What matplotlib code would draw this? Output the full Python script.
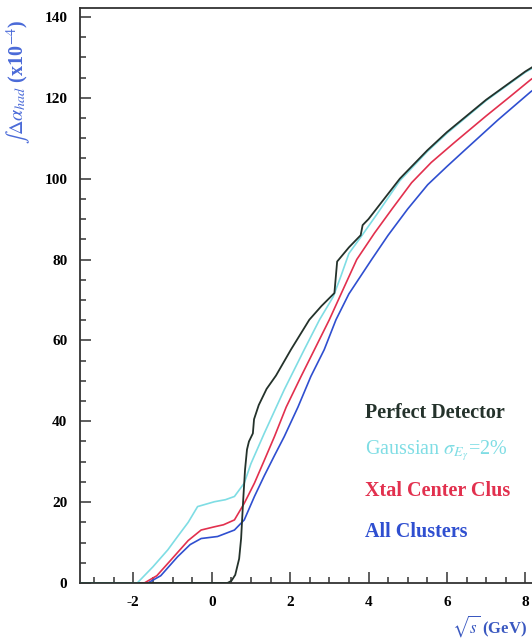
import matplotlib
matplotlib.use("Agg")
import matplotlib.pyplot as plt
from matplotlib.ticker import MultipleLocator

plt.rcParams["font.family"] = ["Liberation Serif", "DejaVu Serif"]
plt.rcParams["mathtext.fontset"] = "stix"
plt.rcParams["axes.unicode_minus"] = False

# Cumulative hadronic contribution vs sqrt(s), four detector assumptions
perfect_x = [-3.4, 0.4, 0.5, 0.6, 0.7, 0.75, 0.8, 0.85, 0.9, 0.95, 1.05, 1.08,
             1.2, 1.4, 1.64, 2.02, 2.49, 2.8, 3.13, 3.2, 3.5, 3.8, 3.85, 4.0,
             4.4, 4.8, 5.5, 6.0, 6.5, 7.0, 7.5, 8.0, 8.5, 9.0]
perfect_y = [0, 0, 0.5, 2, 6, 11, 20, 28, 33, 35, 37, 40.5,
             44, 48, 51.3, 57.7, 65.1, 68.5, 71.7, 79.5, 83, 86, 88.5, 90,
             95, 100, 107, 111.5, 115.5, 119.5, 123, 126.5, 129.5, 132]

gauss_x = [-3.4, -1.9, -1.5, -1.12, -0.87, -0.6, -0.36, 0.07, 0.35, 0.58, 0.83,
           1.0, 1.34, 1.6, 1.85, 2.02, 2.36, 2.75, 3.1, 3.3, 3.5, 3.8, 4.2,
           4.8, 5.5, 6.0, 7.0, 8.0, 9.0]
gauss_y = [0, 0, 4, 8.2, 11.5, 15, 18.9, 20.1, 20.6, 21.4, 24.7,
           29.5, 37, 42.5, 47.8, 51.1, 57.7, 65.1, 70.8, 76, 81.5, 85.5, 91,
           99.5, 106.7, 111.2, 119.3, 126.3, 131.8]

xtal_x = [-3.4, -1.72, -1.4, -1.04, -0.6, -0.27, 0.07, 0.3, 0.58, 0.83, 1.09,
          1.34, 1.6, 1.9, 2.28, 2.62, 3.0, 3.3, 3.7, 4.15, 4.6, 5.1, 5.6,
          6.2, 7.0, 7.6, 8.14, 9.0]
xtal_y = [0, 0, 1.8, 5.7, 10.5, 13.1, 13.9, 14.4, 15.6, 19.7, 24.7,
          30.3, 36.2, 43.5, 51.1, 57.7, 65.1, 71.5, 80, 86.5, 92.5, 99, 104,
          109, 115.5, 120.2, 124.5, 130]

allclus_x = [-3.4, -1.63, -1.3, -0.87, -0.55, -0.27, 0.15, 0.58, 0.83, 1.09,
             1.34, 1.6, 1.85, 2.2, 2.53, 2.87, 3.17, 3.5, 4.08, 4.5, 5.0, 5.51,
             6.0, 6.45, 7.3, 8.14, 9.0]
allclus_y = [0, 0, 1.8, 6.5, 9.5, 11, 11.5, 13.1, 15.6, 21.4,
             26.5, 31.5, 36.2, 43.5, 51.1, 57.7, 65.1, 71.5, 80, 86, 92.5, 98.5,
             103, 107, 114.5, 121.5, 127.5]

series_labels = ["Perfect Detector", r"Gaussian $\sigma_{E_\gamma}$=2%",
                 "Xtal Center Clus", "All Clusters"]
series_colors = ["#24322b", "#7fdde4", "#e2304e", "#2f4fd0"]

W, H = 532, 640
fig = plt.figure(figsize=(W / 100, H / 100), dpi=100)
ax = fig.add_axes([80 / W, 57 / H, 484.5 / W, 575 / H])

ax.plot(allclus_x, allclus_y, color=series_colors[3], lw=1.2, zorder=2)
ax.plot(xtal_x, xtal_y, color=series_colors[2], lw=1.2, zorder=3)
ax.plot(gauss_x, gauss_y, color=series_colors[1], lw=1.2, zorder=4)
ax.plot(perfect_x, perfect_y, color=series_colors[0], lw=1.3, zorder=5)

ax.set_xlim(-3.36, 9.0)
ax.set_ylim(0, 142.2)
ax.xaxis.set_major_locator(MultipleLocator(2))
ax.xaxis.set_minor_locator(MultipleLocator(0.5))
ax.yaxis.set_major_locator(MultipleLocator(20))
ax.yaxis.set_minor_locator(MultipleLocator(5))
ax.tick_params(which="both", direction="in", top=False, right=False,
               color="#333333", width=1.1)
ax.tick_params(which="major", length=8, labelsize=11, pad=9)
ax.tick_params(which="minor", length=4.5)
for lab in ax.get_xticklabels() + ax.get_yticklabels():
    lab.set_fontweight("bold")
for sp in ax.spines.values():
    sp.set_linewidth(1.3)
    sp.set_color("#333333")

# Legend as coloured text lines
leg_y = [413, 451, 491, 532]
weights = ["bold", "normal", "bold", "bold"]
for lab, col, yy, wt in zip(series_labels, series_colors, leg_y, weights):
    fig.text(365 / W, 1 - yy / H, lab, color=col, fontsize=14.5,
             fontweight=wt, va="center", ha="left")

fig.text(18 / W, 1 - 82 / H, r"$\int\Delta\alpha_{had}$ (x10$^{-4}$)",
         rotation=90, color="#4a6ad8", fontsize=14.5, fontweight="bold",
         ha="center", va="center")
fig.text(452 / W, 1 - 626 / H, r"$\sqrt{s}$ (GeV)", color="#3a58c0",
         fontsize=12, fontweight="bold", ha="left", va="center")

fig.savefig("out.png", dpi=100)
